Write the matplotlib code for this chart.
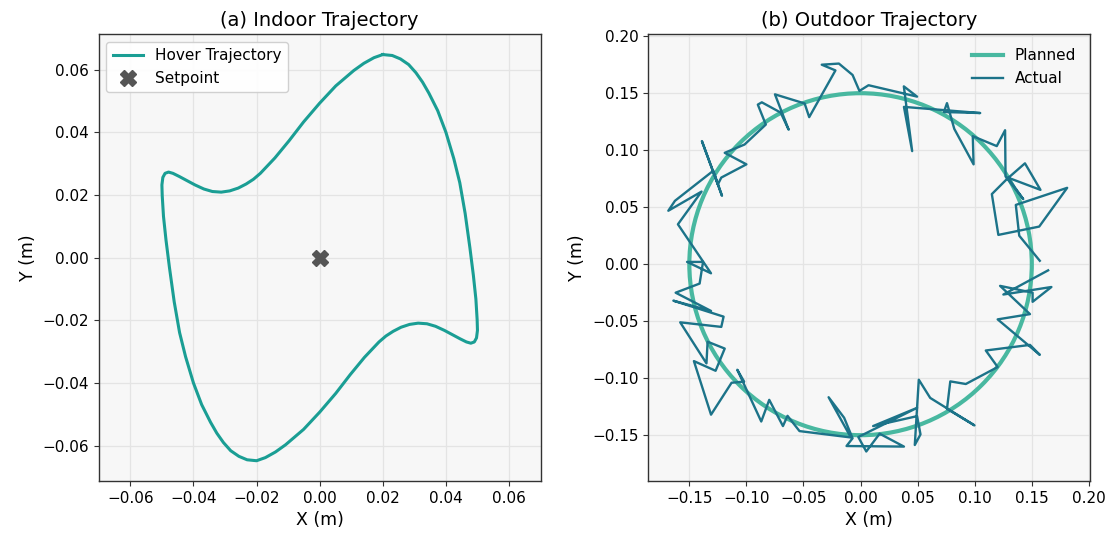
import matplotlib
matplotlib.use("Agg")
import matplotlib.pyplot as plt
from matplotlib.lines import Line2D
from matplotlib.patches import Circle


# (a) indoor hover trajectory (closed loop, clockwise from the top)
HOVER_X = [
    0.0200, 0.0230, 0.0256, 0.0282, 0.0305, 0.0326, 0.0346, 0.0374, 0.0400, 0.0425,
    0.0444, 0.0461, 0.0476, 0.0487, 0.0495, 0.0499, 0.0500, 0.0497, 0.0490, 0.0479,
    0.0465, 0.0445, 0.0421, 0.0395, 0.0367, 0.0340, 0.0312, 0.0285, 0.0258, 0.0233,
    0.0210, 0.0188, 0.0142, 0.0097, 0.0051, 0.0000, -0.0051, -0.0108, -0.0140, -0.0172,
    -0.0200, -0.0230, -0.0256, -0.0282, -0.0305, -0.0326, -0.0346, -0.0374, -0.0400, -0.0425,
    -0.0444, -0.0461, -0.0476, -0.0487, -0.0495, -0.0499, -0.0500, -0.0497, -0.0490, -0.0479,
    -0.0465, -0.0445, -0.0421, -0.0395, -0.0367, -0.0340, -0.0312, -0.0285, -0.0258, -0.0233,
    -0.0210, -0.0188, -0.0142, -0.0097, -0.0051, 0.0000, 0.0051, 0.0108, 0.0140, 0.0172,
    0.0200,
]
HOVER_Y = [
    0.0648, 0.0645, 0.0634, 0.0616, 0.0590, 0.0560, 0.0525, 0.0469, 0.0400, 0.0316,
    0.0239, 0.0141, 0.0032, -0.0056, -0.0132, -0.0198, -0.0232, -0.0256, -0.0269, -0.0273,
    -0.0269, -0.0259, -0.0246, -0.0232, -0.0219, -0.0211, -0.0209, -0.0213, -0.0222, -0.0235,
    -0.0250, -0.0269, -0.0318, -0.0373, -0.0433, -0.0493, -0.0548, -0.0597, -0.0620, -0.0638,
    -0.0648, -0.0645, -0.0634, -0.0616, -0.0590, -0.0560, -0.0525, -0.0469, -0.0400, -0.0316,
    -0.0239, -0.0141, -0.0032, 0.0056, 0.0132, 0.0198, 0.0232, 0.0256, 0.0269, 0.0273,
    0.0269, 0.0259, 0.0246, 0.0232, 0.0219, 0.0211, 0.0209, 0.0213, 0.0222, 0.0235,
    0.0250, 0.0269, 0.0318, 0.0373, 0.0433, 0.0493, 0.0548, 0.0597, 0.0620, 0.0638,
    0.0648,
]
SETPOINT = (0.0, 0.0)

# (b) outdoor trajectory
PLANNED_CENTER = (0.0, 0.0)
PLANNED_RADIUS = 0.15

ACTUAL_X = [
    0.157, 0.139, 0.136, 0.181, 0.1565, 0.1207, 0.115, 0.128, 0.144, 0.1576,
    0.129, 0.1425, 0.127, 0.1266, 0.1193, 0.0983, 0.099, 0.0821, 0.0757, 0.073,
    0.1048, 0.038, 0.0452, 0.0379, 0.0495, 0.007, -0.001, -0.007, -0.019, -0.034,
    -0.022, -0.045, -0.049, -0.075, -0.063, -0.070, -0.0865, -0.090, -0.083, -0.1016,
    -0.119, -0.100, -0.122, -0.125, -0.139, -0.1214, -0.129, -0.1626, -0.1684, -0.1393,
    -0.160, -0.131, -0.152, -0.138, -0.141, -0.162, -0.131, -0.164, -0.120, -0.122,
    -0.158, -0.135, -0.134, -0.119, -0.127, -0.146, -0.131, -0.113, -0.102, -0.108,
    -0.087, -0.080, -0.068, -0.064, -0.0535, -0.0085, -0.028, -0.0144, -0.007, -0.0123,
    0.038, 0.0167, 0.005, -0.002, 0.0495, 0.011, 0.0495, 0.0525, 0.0475, 0.051,
    0.061, 0.0998, 0.0757, 0.0786, 0.0922, 0.1201, 0.1097, 0.1484, 0.157, 0.1201,
    0.1484, 0.1222, 0.1507, 0.1507, 0.1672, 0.1251, 0.1643,
]
ACTUAL_Y = [
    0.003, 0.025, 0.052, 0.067, 0.033, 0.0257, 0.0615, 0.0745, 0.0885, 0.0652,
    0.076, 0.0571, 0.077, 0.1175, 0.1036, 0.1123, 0.0876, 0.1187, 0.1413, 0.1335,
    0.1326, 0.138, 0.0992, 0.156, 0.147, 0.157, 0.152, 0.166, 0.176, 0.175,
    0.170, 0.129, 0.141, 0.149, 0.118, 0.133, 0.142, 0.140, 0.1225, 0.105,
    0.0977, 0.0876, 0.076, 0.070, 0.108, 0.060, 0.082, 0.0556, 0.0469, 0.0637,
    0.035, -0.008, 0.002, 0.002, -0.017, -0.025, -0.041, -0.032, -0.046, -0.055,
    -0.051, -0.087, -0.068, -0.074, -0.0935, -0.085, -0.132, -0.104, -0.103, -0.0926,
    -0.138, -0.119, -0.142, -0.133, -0.1464, -0.152, -0.1167, -0.1347, -0.1527, -0.1595,
    -0.160, -0.1487, -0.1643, -0.1516, -0.126, -0.142, -0.1333, -0.1493, -0.1586, -0.1013,
    -0.1173, -0.1414, -0.1269, -0.1028, -0.1051, -0.0902, -0.0757, -0.0708, -0.0795, -0.0484,
    -0.0438, -0.019, -0.025, -0.033, -0.020, -0.0266, -0.0054,
]

HOVER_COLOR = "#1a9e94"
PLANNED_COLOR = "#48b8a0"
ACTUAL_COLOR = "#1c7389"
SETPOINT_COLOR = "#555555"
AX_BG = "#f7f7f7"


def style_axes(ax):
    ax.set_facecolor(AX_BG)
    ax.grid(True, color="#e4e4e4", linewidth=0.9)
    ax.set_axisbelow(True)
    for spine in ax.spines.values():
        spine.set_color("#333333")
        spine.set_linewidth(1.0)
    ax.tick_params(labelsize=11, color="#333333")


def draw_indoor(ax):
    style_axes(ax)
    ax.plot(HOVER_X, HOVER_Y, color=HOVER_COLOR, linewidth=2.2, label="Hover Trajectory",
            solid_joinstyle="round")
    ax.plot([SETPOINT[0]], [SETPOINT[1]], linestyle="none", marker="X", markersize=11,
            color=SETPOINT_COLOR, label="Setpoint", zorder=4)
    ax.set_xlim(-0.07, 0.07)
    ax.set_ylim(-0.0712, 0.0712)
    ax.set_xticks([-0.06, -0.04, -0.02, 0.0, 0.02, 0.04, 0.06])
    ax.set_yticks([-0.06, -0.04, -0.02, 0.0, 0.02, 0.04, 0.06])
    ax.set_xlabel("X (m)", fontsize=12.5)
    ax.set_ylabel("Y (m)", fontsize=12.5)
    ax.set_title("(a) Indoor Trajectory", fontsize=14)
    ax.legend(loc="upper left", fontsize=11, framealpha=0.9, edgecolor="#cccccc")


def draw_outdoor(ax):
    style_axes(ax)
    ax.add_patch(Circle(PLANNED_CENTER, PLANNED_RADIUS, fill=False,
                        edgecolor=PLANNED_COLOR, linewidth=3.0, zorder=2))
    ax.plot(ACTUAL_X, ACTUAL_Y, color=ACTUAL_COLOR, linewidth=1.7, zorder=3)
    ax.set_xlim(-0.186, 0.201)
    ax.set_ylim(-0.190, 0.2015)
    ax.set_xticks([-0.15, -0.10, -0.05, 0.0, 0.05, 0.10, 0.15, 0.20])
    ax.set_yticks([-0.15, -0.10, -0.05, 0.0, 0.05, 0.10, 0.15, 0.20])
    ax.set_xlabel("X (m)", fontsize=12.5)
    ax.set_ylabel("Y (m)", fontsize=12.5)
    ax.set_title("(b) Outdoor Trajectory", fontsize=14)
    handles = [
        Line2D([], [], color=PLANNED_COLOR, linewidth=3.0),
        Line2D([], [], color=ACTUAL_COLOR, linewidth=1.7),
    ]
    ax.legend(handles, ["Planned", "Actual"], loc="upper right", fontsize=11, frameon=False)


def main():
    fig = plt.figure(figsize=(11.1, 5.39), dpi=100)
    ax_in = fig.add_axes([0.089, 0.108, 0.398, 0.828])
    ax_out = fig.add_axes([0.584, 0.108, 0.398, 0.828])
    draw_indoor(ax_in)
    draw_outdoor(ax_out)
    fig.savefig("out.png", dpi=100, facecolor="white")


if __name__ == "__main__":
    main()
